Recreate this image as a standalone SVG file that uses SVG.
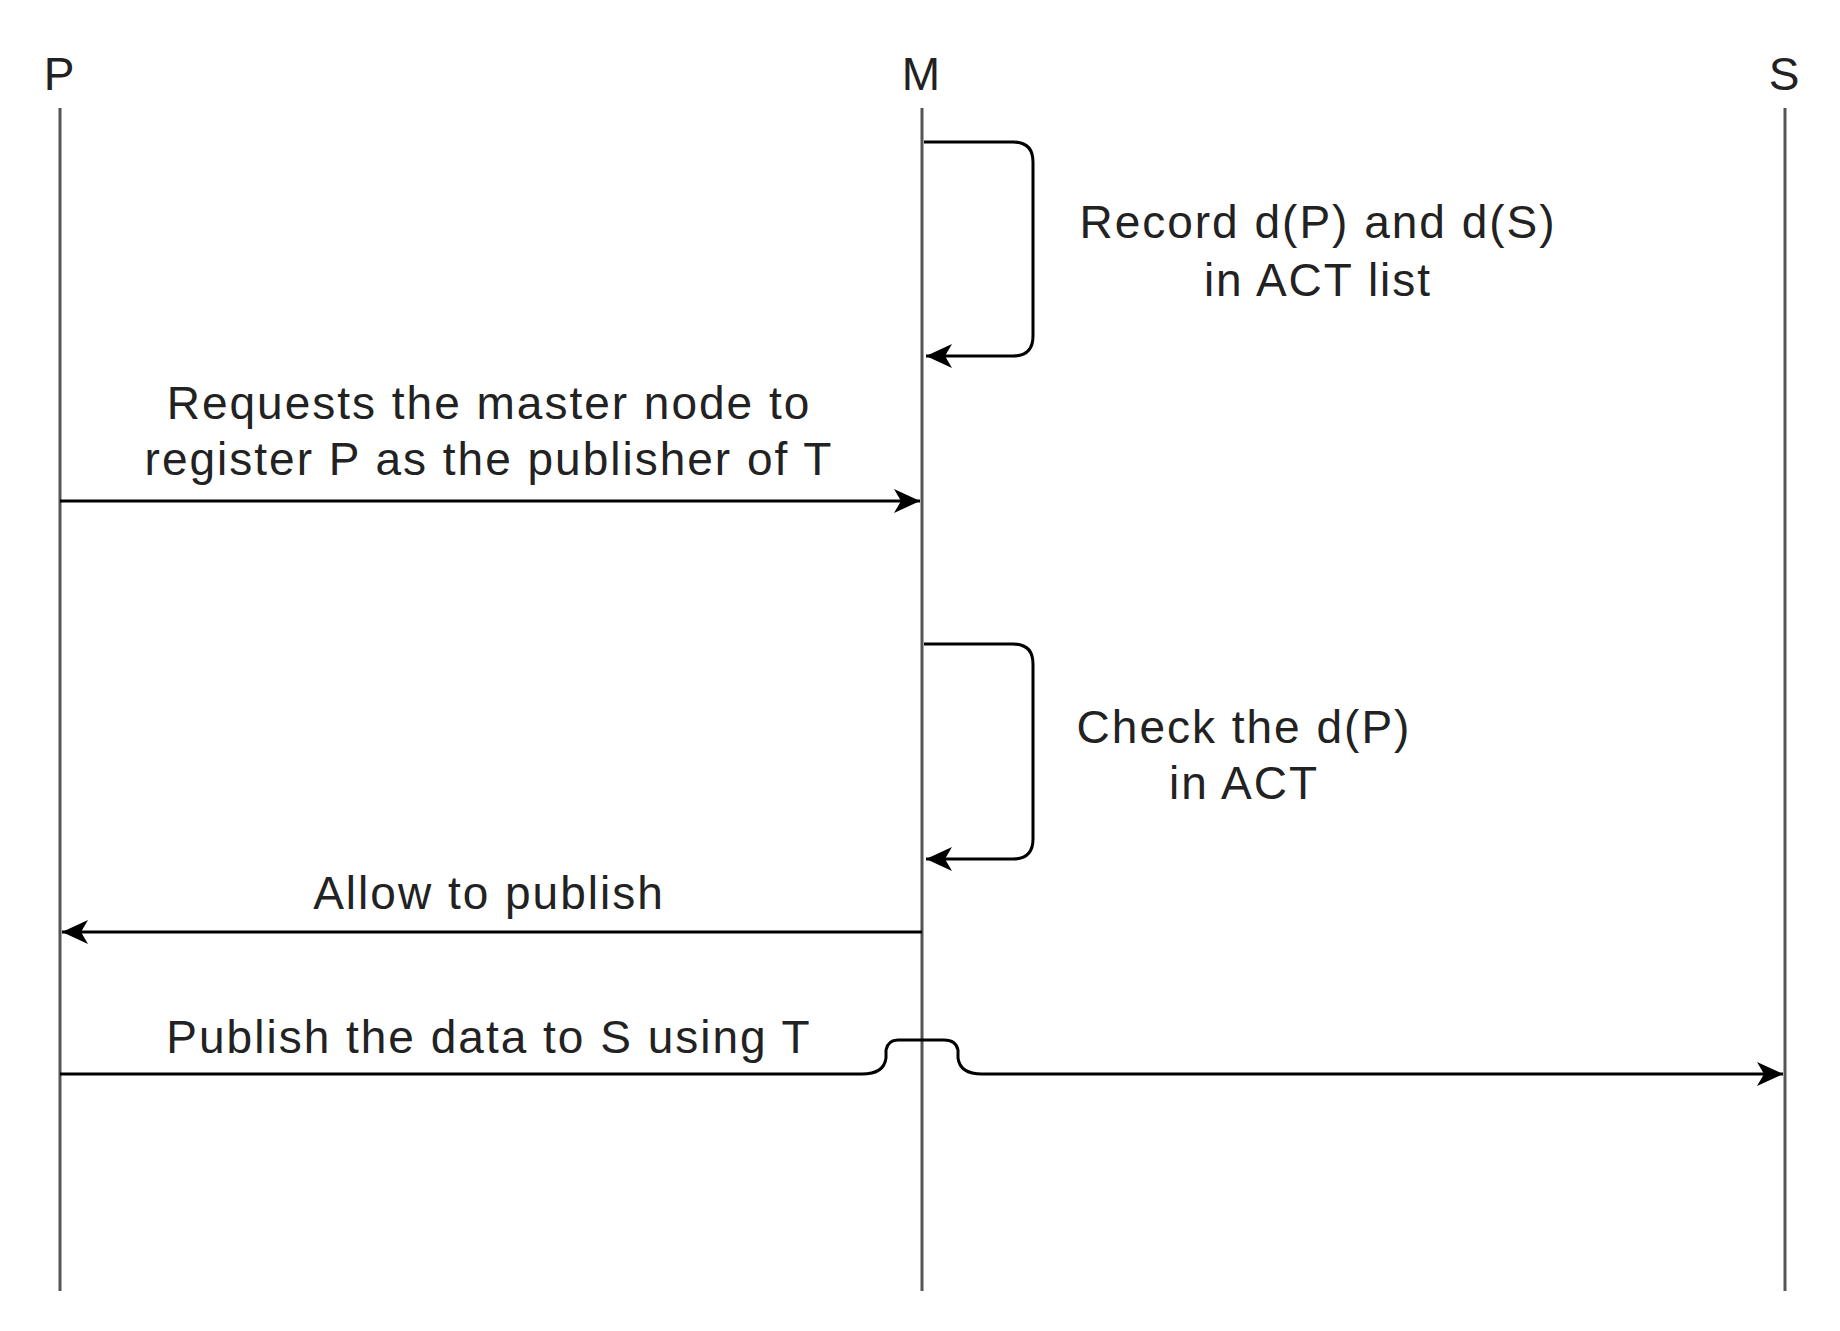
<svg xmlns="http://www.w3.org/2000/svg" width="1840" height="1331" viewBox="0 0 1840 1331">
<style>
text{font-family:"Liberation Sans",Arial,sans-serif;font-size:46px;letter-spacing:2px;fill:#222;text-anchor:middle}
.life{stroke:#555;stroke-width:3;fill:none}
.msg{stroke:#000;stroke-width:3;fill:none}
</style>
<defs>
<marker id="a" markerWidth="28" markerHeight="28" refX="26" refY="14" orient="auto" markerUnits="userSpaceOnUse"><path d="M0,2 L26,14 L0,26 L7,14 Z" fill="#000"/></marker></defs>
<rect width="1840" height="1331" fill="#fff"/>
<g id="P"><text x="60" y="90">P</text><line class="life" x1="60" y1="108" x2="60" y2="1291"/></g>
<g id="M"><text x="922" y="90">M</text><line class="life" x1="922" y1="108" x2="922" y2="1291"/></g>
<g id="S"><text x="1785" y="90">S</text><line class="life" x1="1785" y1="108" x2="1785" y2="1291"/></g>
<g id="connectors">
<path class="msg" d="M924,142 H1013 Q1033,142 1033,162 V336 Q1033,356 1013,356 H926" marker-end="url(#a)"/>
<path class="msg" d="M924,644 H1013 Q1033,644 1033,664 V839 Q1033,859 1013,859 H926" marker-end="url(#a)"/>
<path class="msg" d="M60,501 H920" marker-end="url(#a)"/>
<path class="msg" d="M922,932 H62" marker-end="url(#a)"/>
<path class="msg" d="M60,1074 H862 Q884,1074 886,1058 V1050 Q888,1040 898,1040 H944 Q956,1040 958,1050 V1058 Q960,1074 982,1074 H1783" marker-end="url(#a)"/>
</g>
<g id="labels">
<text x="1318" y="238">Record d(P) and d(S)</text>
<text x="1318" y="296">in ACT list</text>
<text x="489" y="419">Requests the master node to</text>
<text x="489" y="475">register P as the publisher of T</text>
<text x="1244" y="743">Check the d(P)</text>
<text x="1244" y="799">in ACT</text>
<text x="489" y="909">Allow to publish</text>
<text x="489" y="1053">Publish the data to S using T</text>
</g>
</svg>
